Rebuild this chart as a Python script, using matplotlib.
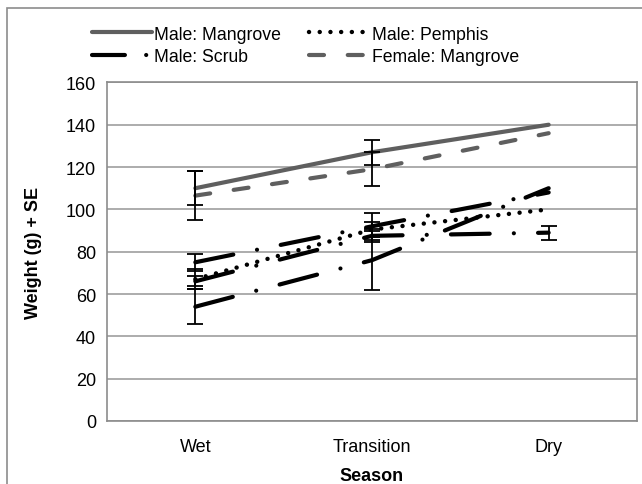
import matplotlib
matplotlib.use("Agg")
import matplotlib.pyplot as plt
from matplotlib.patches import Rectangle
from matplotlib.lines import Line2D
import numpy as np

plt.rcParams['font.family'] = ['Liberation Sans', 'DejaVu Sans']

seasons = ["Wet", "Transition", "Dry"]

# mean weights (g) per season
male_mangrove = [110, 127, 140]
male_pemphis = [67, 90.5, 100]
male_scrub = [54, 76, 110]
female_mangrove = [106.5, 119, 136]
female_pemphis = [75, 92, 108]
female_scrub = [66, 87.5, 89]

# standard errors (0 = no bar shown)
se_male_mangrove = [8, 6, 0]
se_male_pemphis = [4.7, 3.5, 0]
se_male_scrub = [8.2, 14, 0]
se_female_mangrove = [11.5, 8, 0]
se_female_pemphis = [4, 6.5, 0]
se_female_scrub = [2.3, 3, 3.3]

GRAY = "#5f5f5f"
LONG_DASH_DOT = (0, (9.3, 5.8, 0.01, 5.8))
DOTS = (0, (0.01, 2.4))
DASH = (0, (3.6, 5.7))


def draw(ax, y, se, label, color, ls, lw=3.0):
    x = np.arange(len(seasons))
    line, = ax.plot(x, y, color=color, linestyle=ls, linewidth=lw,
                    dash_capstyle="round", solid_capstyle="round", label=label)
    se = np.asarray(se, dtype=float)
    keep = se > 0
    ax.errorbar(x[keep], np.asarray(y)[keep], yerr=se[keep], fmt="none",
                ecolor="black", elinewidth=1.3, capsize=6, capthick=1.3, zorder=3)
    return line


fig = plt.figure(figsize=(6.42, 4.85), dpi=100)
ax = fig.add_axes([107 / 642, 1 - 422 / 485, 530 / 642, 338.6 / 485])

h_mm = draw(ax, male_mangrove, se_male_mangrove, "Male: Mangrove", GRAY, "-")
h_mp = draw(ax, male_pemphis, se_male_pemphis, "Male: Pemphis", "black", DOTS, lw=3.2)
h_ms = draw(ax, male_scrub, se_male_scrub, "Male: Scrub", "black", LONG_DASH_DOT)
h_fm = draw(ax, female_mangrove, se_female_mangrove, "Female: Mangrove", GRAY, DASH)
draw(ax, female_pemphis, se_female_pemphis, "Female: Pemphis", "black", LONG_DASH_DOT)
draw(ax, female_scrub, se_female_scrub, "Female: Scrub", "black", LONG_DASH_DOT)

ax.set_xlim(-0.5, 2.5)
ax.set_ylim(0, 160)
ax.set_yticks(range(0, 161, 20))
ax.set_xticks(range(len(seasons)))
ax.set_xticklabels(seasons)
ax.tick_params(axis="both", length=0, labelsize=13)
ax.tick_params(axis="y", pad=8)
ax.tick_params(axis="x", pad=12)
ax.yaxis.grid(True, color="#a6a6a6", linewidth=1.3)
ax.set_axisbelow(True)
for s in ax.spines.values():
    s.set_color("#8c8c8c")
    s.set_linewidth(1.2)

ax.set_xlabel("Season", fontsize=13, fontweight="bold", labelpad=9)
ax.set_ylabel("Weight (g) + SE", fontsize=13, fontweight="bold", labelpad=17)

# legend sample for the scrub series: long dash then a single dot
ms_key = Line2D([], [], color="black", linewidth=3.0, linestyle=(0, (7.9, 5.1, 0.01, 20)),
                dash_capstyle="round")
fig.legend([h_mm, ms_key, h_mp, h_fm],
           ["Male: Mangrove", "Male: Scrub", "Male: Pemphis", "Female: Mangrove"],
           ncol=2, loc="upper left", bbox_to_anchor=(0.118, 0.978), frameon=False,
           fontsize=12.7, handlelength=3.4, handletextpad=0.15, columnspacing=1.6,
           labelspacing=0.3)

# outer chart border (cropped)
fig.add_artist(Rectangle((7 / 642, -0.5), 2, 0.5 + 1 - 9 / 485, transform=fig.transFigure,
                         fill=False, edgecolor="#8c8c8c", linewidth=1.2))

fig.savefig("out.png", dpi=100)
